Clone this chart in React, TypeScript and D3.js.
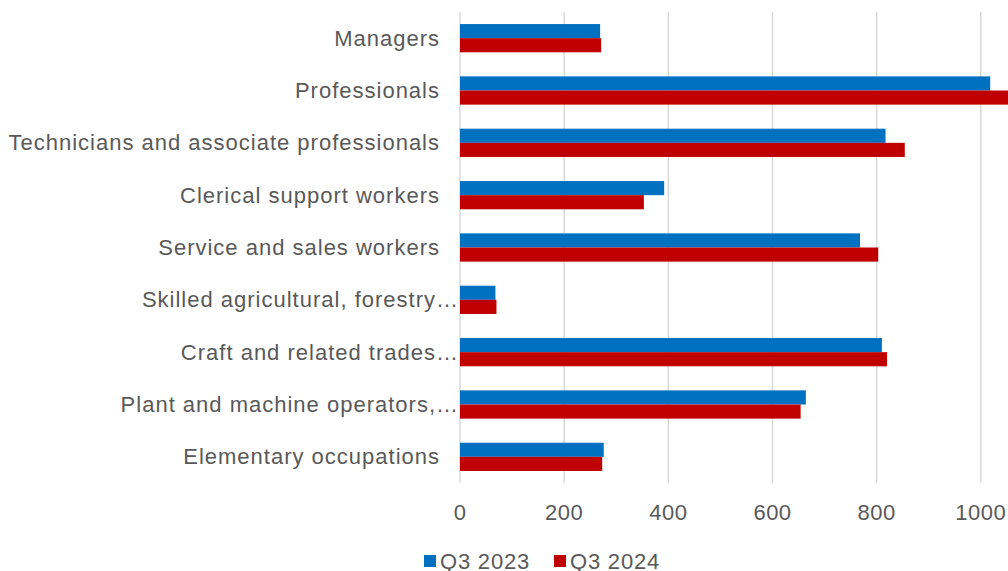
import * as d3 from "d3";

const categories = [
  "Managers",
  "Professionals",
  "Technicians and associate professionals",
  "Clerical support workers",
  "Service and sales workers",
  "Skilled agricultural, forestry…",
  "Craft and related trades…",
  "Plant and machine operators,…",
  "Elementary occupations",
];
const q3_2023 = [269, 1018, 817, 392, 768, 68, 810, 664, 276];
const q3_2024 = [271, 1080, 854, 353, 803, 70, 820, 654, 273];
const seriesNames = ["Q3 2023", "Q3 2024"];
const tickValues = [0, 200, 400, 600, 800, 1000, 1200];

const W = 1008;
const H = 571;
const colors = ["#0070c0", "#c00000"];
const textColor = "#595959";
const font = "'Liberation Sans', Arial, sans-serif";

export default function App() {
  const x = d3.scaleLinear().domain([0, 1200]).range([460, 1085]);
  const y = d3.scaleBand().domain(categories).range([12, 483]).paddingInner(0.46).paddingOuter(0.23);
  const inner = d3.scaleBand().domain(seriesNames).range([0, y.bandwidth()]);

  const series = [q3_2023, q3_2024];

  return (
    <div style={{ position: "absolute", left: 0, top: 0 }}>
      <svg width={W} height={H} style={{ display: "block", background: "#fff" }} fontFamily={font}>
        {/* gridlines */}
        {tickValues.map((t) => (
          <line key={t} x1={x(t)} x2={x(t)} y1={12} y2={483} stroke="#d9d9d9" strokeWidth={1.5} />
        ))}
        {/* bars */}
        {categories.map((c, i) =>
          series.map((s, j) => (
            <rect
              key={c + j}
              x={x(0)}
              y={(y(c) || 0) + (inner(seriesNames[j]) || 0)}
              width={x(s[i]) - x(0)}
              height={inner.bandwidth()}
              fill={colors[j]}
            />
          ))
        )}
        {/* category labels */}
        {categories.map((c) => (
          <text
            key={c}
            x={c.endsWith("…") ? 459 : 440}
            y={(y(c) || 0) + y.bandwidth() / 2}
            textAnchor="end"
            dominantBaseline="central"
            fontSize={22}
            letterSpacing={1}
            fill={textColor}
          >
            {c}
          </text>
        ))}
        {/* x tick labels */}
        {tickValues.map((t) => (
          <text
            key={t}
            x={x(t)}
            y={512}
            textAnchor="middle"
            dominantBaseline="central"
            fontSize={22}
            letterSpacing={0.5}
            fill={textColor}
          >
            {t}
          </text>
        ))}
        {/* legend */}
        {seriesNames.map((n, j) => {
          const lx = j === 0 ? 424 : 554;
          return (
            <g key={n}>
              <rect x={lx} y={555} width={12} height={12} fill={colors[j]} />
              <text
                x={lx + 16}
                y={561}
                dominantBaseline="central"
                fontSize={22}
                letterSpacing={0.8}
                fill={textColor}
              >
                {n}
              </text>
            </g>
          );
        })}
      </svg>
    </div>
  );
}
